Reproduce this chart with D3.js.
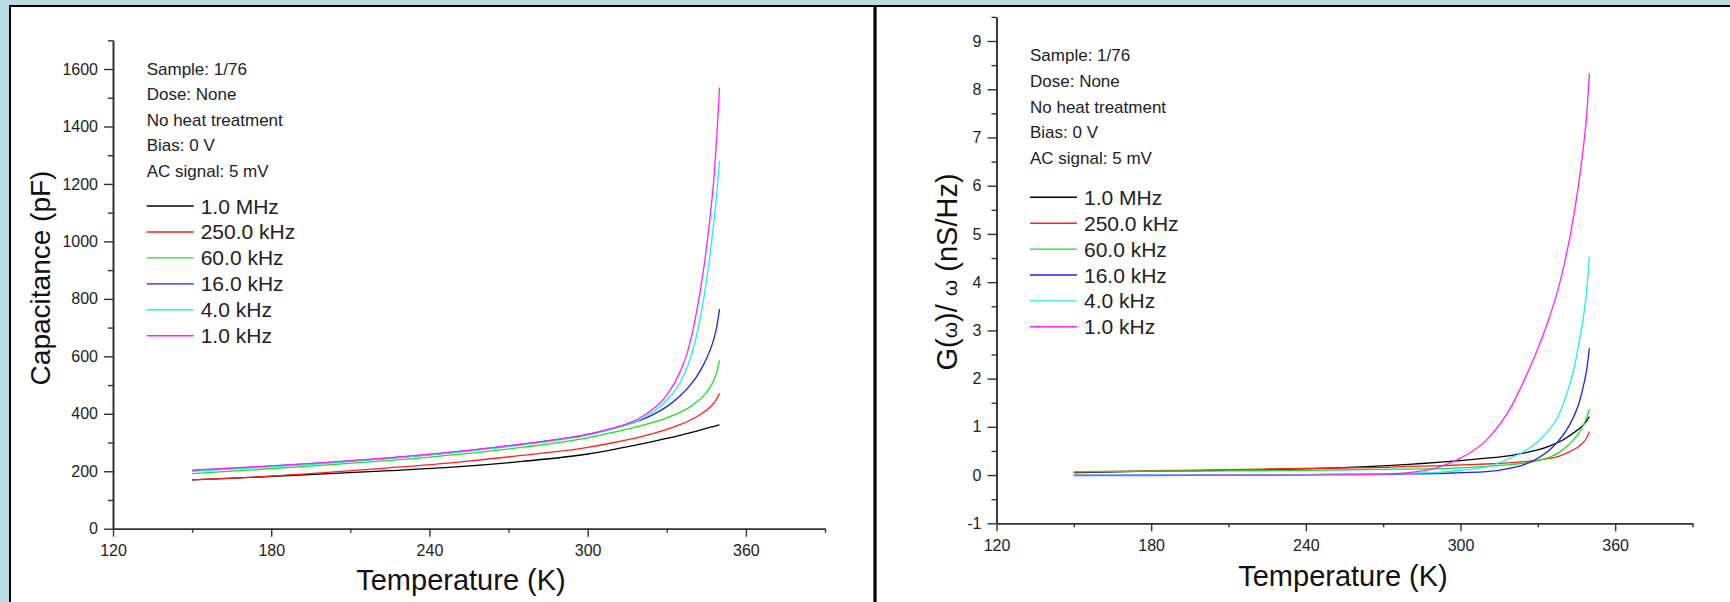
<!DOCTYPE html>
<html><head><meta charset="utf-8">
<script src="https://cdn.jsdelivr.net/npm/d3@7"></script>
<style>
html,body{margin:0;padding:0;background:#b9dee2;}
svg{display:block;font-family:"Liberation Sans",Arial,sans-serif;}
</style></head><body><svg id="c" width="1730" height="602"></svg>
<script>
// ---------- data ----------
const freqLabels = ["1.0 MHz","250.0 kHz","60.0 kHz","16.0 kHz","4.0 kHz","1.0 kHz"];
const infoLines = ["Sample: 1/76","Dose: None","No heat treatment","Bias: 0 V","AC signal: 5 mV"];
const xMajorTicks = [120,180,240,300,360];
const xMinorTicks = [150,210,270,330,390];
const capMajorTicks = [0,200,400,600,800,1000,1200,1400,1600];
const capMinorTicks = [100,300,500,700,900,1100,1300,1500,1700];
const gMajorTicks = [-1,0,1,2,3,4,5,6,7,8,9];
const gMinorTicks = [-0.5,0.5,1.5,2.5,3.5,4.5,5.5,6.5,7.5,8.5,9.5];

// Capacitance (pF) vs temperature (K)
const capTemps = [150,175,200,225,250,275,300,310,320,325,330,335,338,341,344,346,348,349,350];
const cap1MHz  = [170,180,191,202,215,234,260,276,294,304,314,325,332,339,347,352,356.5,359,361];
const cap250k  = [170,180,195,212,231,255,283,300,320,332,346,362,374,388,405,420,440,453,471];
const cap60k   = [192,206,221,238,258,283,316,336,358,371,386,405,419,438,463,486,520,546,585];
const cap16k   = [202,215,229,246,267,294,328,350,378,398,425,462,490,525,572,612,665,705,764];
const cap4k    = [200,213,227,245,266,292,326,348,380,408,447,508,568,660,800,925,1080,1170,1280];
const cap1k    = [204,216,230,247,268,294,328,351,386,418,465,545,620,740,905,1050,1235,1370,1536];

// G(w)/w (nS/Hz) vs temperature (K)
const gTemps = [150,180,210,240,270,280,290,300,310,320,325,330,335,338,341,344,346,348,349,350];
const g1MHz  = [0.05,0.08,0.10,0.13,0.19,0.22,0.26,0.30,0.35,0.41,0.46,0.52,0.61,0.68,0.77,0.88,0.96,1.06,1.13,1.21];
const g250k  = [0.06,0.09,0.11,0.14,0.16,0.18,0.19,0.21,0.23,0.26,0.28,0.31,0.35,0.39,0.45,0.53,0.60,0.70,0.78,0.90];
const g60k   = [0.07,0.08,0.09,0.10,0.12,0.125,0.13,0.15,0.18,0.22,0.25,0.30,0.38,0.46,0.58,0.74,0.88,1.07,1.20,1.36];
const g16k   = [0.00,0.00,0.00,0.01,0.02,0.025,0.03,0.05,0.07,0.15,0.22,0.35,0.54,0.71,0.92,1.22,1.50,1.92,2.20,2.63];
const g4k    = [0.00,0.00,0.00,0.01,0.03,0.04,0.05,0.10,0.17,0.37,0.50,0.69,0.98,1.23,1.65,2.20,2.75,3.40,3.85,4.53];
const g1k    = [-0.01,-0.01,0.00,0.00,0.02,0.05,0.14,0.35,0.72,1.45,2.00,2.62,3.35,3.88,4.55,5.40,6.10,6.95,7.50,8.33];

// ---------- style ----------
const colors = ["#000000","#ff2020","#22dd22","#2020ee","#22eeee","#ff22ff"];

const svg = d3.select("#c");
svg.append("rect").attr("width",1730).attr("height",602).attr("fill","#b9dee2");
svg.append("rect").attr("x",10).attr("y",6).attr("width",865).attr("height",620)
  .attr("fill","#fff").attr("stroke","#000").attr("stroke-width",2);
svg.append("rect").attr("x",875).attr("y",6).attr("width",870).attr("height",620)
  .attr("fill","#fff").attr("stroke","#000").attr("stroke-width",2);
svg.append("line").attr("x1",875).attr("x2",875).attr("y1",5).attr("y2",602)
  .attr("stroke","#000").attr("stroke-width",3.2);

function panel(o){
  const x = d3.scaleLinear().domain([120,390]).range([o.x0,o.x1]);
  const y = d3.scaleLinear().domain(o.yDom).range([o.y0,o.y1]);
  const g = svg.append("g");
  const styleAxis = s => {
    s.select(".domain").attr("stroke","#333").attr("stroke-width",1.6);
    s.selectAll(".tick line").attr("stroke","#333").attr("stroke-width",1.4);
    s.selectAll(".tick text").attr("fill","#222").attr("font-size",16)
      .attr("font-family",'"Liberation Sans",Arial,sans-serif');
  };
  g.append("g").attr("transform",`translate(0,${o.y0})`)
    .call(d3.axisBottom(x).tickValues(xMinorTicks).tickSize(4).tickSizeOuter(0).tickFormat(""))
    .call(styleAxis);
  g.append("g").attr("transform",`translate(0,${o.y0})`)
    .call(d3.axisBottom(x).tickValues(xMajorTicks).tickSize(8).tickPadding(o.xPad).tickSizeOuter(0).tickFormat(d=>String(d)))
    .call(styleAxis);
  g.append("g").attr("transform",`translate(${o.x0},0)`)
    .call(d3.axisLeft(y).tickValues(o.yMinor).tickSize(5).tickSizeOuter(0).tickFormat(""))
    .call(styleAxis);
  g.append("g").attr("transform",`translate(${o.x0},0)`)
    .call(d3.axisLeft(y).tickValues(o.yMajor).tickSize(9).tickPadding(6).tickSizeOuter(0).tickFormat(d=>String(d)))
    .call(styleAxis);

  const line = d3.line().x(d=>x(d[0])).y(d=>y(d[1])).curve(d3.curveMonotoneX);
  o.series.forEach((vals,i)=>{
    g.append("path").datum(o.temps.map((t,k)=>[t,vals[k]]))
      .attr("d",line).attr("fill","none").attr("stroke",colors[i]).attr("stroke-width",1.3);
  });

  infoLines.forEach((t,i)=>{
    g.append("text").attr("x",o.infoX).attr("y",o.infoY + i*o.infoStep)
      .attr("font-size",17).attr("fill","#222").text(t);
  });
  freqLabels.forEach((t,i)=>{
    const ly = o.legY + i*o.legStep;
    g.append("line").attr("x1",o.infoX).attr("x2",o.infoX+47).attr("y1",ly).attr("y2",ly)
      .attr("stroke",colors[i]).attr("stroke-width",1.4);
    g.append("text").attr("x",o.infoX+54).attr("y",ly+7.5).attr("font-size",21).attr("fill","#222").text(t);
  });
  g.append("text").attr("x",o.xtX).attr("y",o.xtY).attr("text-anchor","middle")
    .attr("font-size",29).attr("fill","#111").text("Temperature (K)");
  const yt = g.append("text").attr("transform",`translate(${o.ytX},${o.ytY}) rotate(-90)`)
    .attr("text-anchor","middle").attr("font-size",o.ytSize).attr("fill","#111");
  o.ytParts.forEach(p=>{
    yt.append("tspan").attr("font-size",p.small?21:o.ytSize).text(p.t);
  });
}

panel({
  x0:113, x1:825, y0:528.7, y1:40.3, yDom:[0,1700],
  yMajor:capMajorTicks, yMinor:capMinorTicks, xPad:8,
  temps:capTemps, series:[cap1MHz,cap250k,cap60k,cap16k,cap4k,cap1k],
  infoX:146.7, infoY:74.5, infoStep:25.5, legY:206, legStep:25.95,
  xtX:461, xtY:590, ytX:50, ytY:278, ytSize:28,
  ytParts:[{t:"Capacitance (pF)"}]
});
panel({
  x0:996.5, x1:1692.5, y0:523.3, y1:16.9, yDom:[-1,9.5],
  yMajor:gMajorTicks, yMinor:gMinorTicks, xPad:8,
  temps:gTemps, series:[g1MHz,g250k,g60k,g16k,g4k,g1k],
  infoX:1030, infoY:61.3, infoStep:25.7, legY:197.3, legStep:25.9,
  xtX:1343, xtY:586, ytX:957, ytY:272, ytSize:29,
  ytParts:[{t:"G("},{t:"ω",small:true},{t:")/ "},{t:"ω",small:true},{t:" (nS/Hz)"}]
});
</script></body></html>
